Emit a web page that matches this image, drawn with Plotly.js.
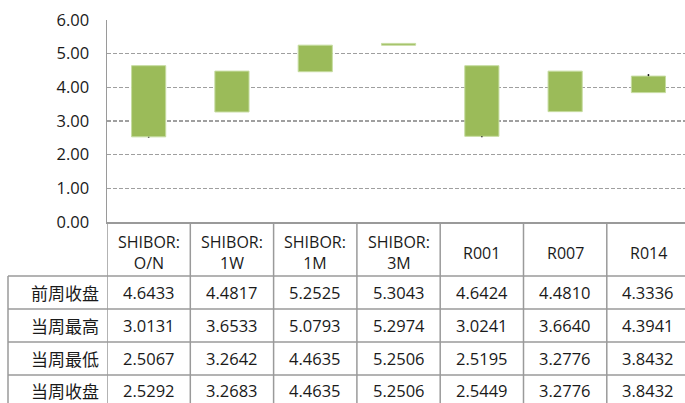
<!DOCTYPE html>
<html>
<head>
<meta charset="utf-8">
<script src="https://cdn.plot.ly/plotly-3.0.1.min.js"></script>
<style>
  body { margin: 0; background: #ffffff; }
  #chart { width: 685px; height: 403px; }
</style>
</head>
<body>
<div id="chart"></div>
<script>
// 利率周度变化：前周收盘 / 当周最高 / 当周最低 / 当周收盘
const categories = ["SHIBOR:O/N", "SHIBOR:1W", "SHIBOR:1M", "SHIBOR:3M", "R001", "R007", "R014"];
const headerLabels = ["SHIBOR:<br>O/N", "SHIBOR:<br>1W", "SHIBOR:<br>1M", "SHIBOR:<br>3M", "R001", "R007", "R014"];
const rowLabels = ["前周收盘", "当周最高", "当周最低", "当周收盘"];
const prevClose = [4.6433, 4.4817, 5.2525, 5.3043, 4.6424, 4.4810, 4.3336];
const weekHigh  = [3.0131, 3.6533, 5.0793, 5.2974, 3.0241, 3.6640, 4.3941];
const weekLow   = [2.5067, 3.2642, 4.4635, 5.2506, 2.5195, 3.2776, 3.8432];
const weekClose = [2.5292, 3.2683, 4.4635, 5.2506, 2.5449, 3.2776, 3.8432];
const yTicks = [0, 1, 2, 3, 4, 5, 6];

document.addEventListener('DOMContentLoaded', () => {
    const W = 685, H = 403;
    const mL = 107, mR = 0, mT = 20, mB = 181;
    const plotW = W - mL - mR, plotH = H - mT - mB;
    const px2x = px => (px - mL) / plotW;
    const px2y = py => (H - mB - py) / plotH;

    const lineCol = '#9a9a9a';
    const latin = 'Open Sans, Noto Sans CJK SC, sans-serif';
    const cjk = 'Noto Sans CJK SC, sans-serif';

    // 箱体：前周收盘 ~ 当周收盘
    const boxBase = prevClose.map((o, i) => Math.min(o, weekClose[i]));
    const boxSize = prevClose.map((o, i) => Math.abs(o - weekClose[i]));

    // 影线：只画箱体之外的部分
    const wx = [], wy = [];
    categories.forEach((c, i) => {
        const lo = Math.min(prevClose[i], weekClose[i]);
        const hi = Math.max(prevClose[i], weekClose[i]);
        if (weekLow[i] < lo) { wx.push(c, c, null); wy.push(weekLow[i], lo, null); }
        if (weekHigh[i] > hi) { wx.push(c, c, null); wy.push(hi, weekHigh[i], null); }
    });

    const data = [
        {
            type: 'bar',
            x: categories,
            y: boxSize,
            base: boxBase,
            width: 0.41,
            marker: { color: '#9bbb59', line: { color: '#c6dca0', width: 1 } },
            hoverinfo: 'skip'
        },
        {
            type: 'scatter',
            mode: 'lines',
            x: wx,
            y: wy,
            line: { color: '#1a1a1a', width: 1.5 },
            hoverinfo: 'skip',
            cliponaxis: false
        }
    ];

    // 数据表格线
    const shapes = [];
    const rowLines = [276, 309, 342, 375, 408];
    rowLines.forEach(py => {
        shapes.push({ type: 'line', xref: 'paper', yref: 'paper',
            x0: px2x(8), x1: 1, y0: px2y(py), y1: px2y(py),
            line: { color: lineCol, width: 1.5 } });
    });
    // 左侧表头列竖线
    shapes.push({ type: 'line', xref: 'paper', yref: 'paper',
        x0: px2x(8), x1: px2x(8), y0: px2y(276), y1: px2y(410),
        line: { color: lineCol, width: 1.5 } });
    // 分类分隔竖线
    for (let i = 0; i < categories.length; i++) {
        shapes.push({ type: 'line', xref: 'x', yref: 'paper',
            x0: i - 0.5, x1: i - 0.5, y0: 0, y1: px2y(410),
            line: { color: lineCol, width: 1.5 } });
    }

    const annotations = [];
    headerLabels.forEach((t, i) => {
        annotations.push({ xref: 'x', yref: 'paper', x: categories[i], y: px2y(253),
            text: t, showarrow: false, xanchor: 'center', yanchor: 'middle',
            font: { family: latin, size: 16, color: '#1a1a1a' } });
    });
    const rows = [prevClose, weekHigh, weekLow, weekClose];
    const rowCenters = [292.5, 325.5, 358.5, 391];
    rows.forEach((vals, r) => {
        annotations.push({ xref: 'paper', yref: 'paper', x: px2x(101), y: px2y(rowCenters[r]),
            text: rowLabels[r], showarrow: false, xanchor: 'right', yanchor: 'middle',
            font: { family: cjk, size: 17, color: '#1a1a1a' } });
        vals.forEach((v, i) => {
            annotations.push({ xref: 'x', yref: 'paper', x: categories[i], y: px2y(rowCenters[r]),
                text: v.toFixed(4), showarrow: false, xanchor: 'center', yanchor: 'middle',
                font: { family: latin, size: 16.5, color: '#1a1a1a' } });
        });
    });

    const layout = {
        width: W,
        height: H,
        margin: { l: mL, r: mR, t: mT, b: mB, pad: 0 },
        paper_bgcolor: '#ffffff',
        plot_bgcolor: '#ffffff',
        showlegend: false,
        xaxis: {
            type: 'category',
            categoryarray: categories,
            range: [-0.5, -0.5 + plotW / 83.3],
            showgrid: false,
            zeroline: false,
            showline: true,
            linecolor: lineCol,
            linewidth: 1.5,
            ticks: '',
            showticklabels: false,
            fixedrange: true
        },
        yaxis: {
            range: [0, 6],
            tickvals: yTicks,
            ticktext: yTicks.map(v => v.toFixed(2)),
            showgrid: true,
            gridcolor: '#9f9f9f',
            gridwidth: 1.2,
            griddash: '4px,2px',
            zeroline: false,
            showline: true,
            linecolor: lineCol,
            linewidth: 1.5,
            ticks: '',
            ticklabelstandoff: 13,
            tickfont: { family: latin, size: 16.5, color: '#1a1a1a' },
            fixedrange: true
        },
        shapes: shapes,
        annotations: annotations
    };

    Plotly.newPlot('chart', data, layout, { displayModeBar: false, staticPlot: true });
});
</script>
</body>
</html>
